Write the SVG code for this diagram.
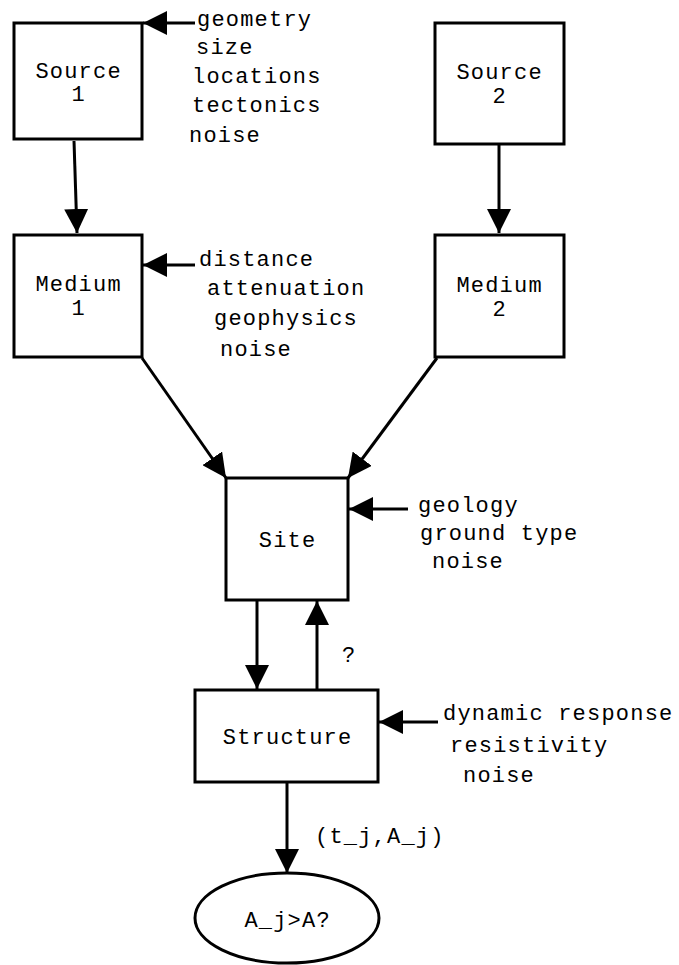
<svg xmlns="http://www.w3.org/2000/svg" width="679" height="965" viewBox="0 0 679 965">
<style>
.box{fill:#fff;stroke:#000;stroke-width:3}
.ln{fill:none;stroke:#000;stroke-width:3;marker-end:url(#ah)}
text{font-family:"Liberation Mono","Courier New",monospace;font-size:22px;letter-spacing:1.2px;fill:#000}
.c{text-anchor:middle}
</style>
<defs>
<marker id="ah" markerUnits="userSpaceOnUse" markerWidth="24" markerHeight="24" refX="22" refY="11" orient="auto" viewBox="0 0 22 22">
<path d="M0,0 L22,11 L0,22 z" fill="#000"/>
</marker>
</defs>
<g id="connectors">
<line class="ln" x1="74" y1="141" x2="77" y2="233"/>
<line class="ln" x1="499" y1="145" x2="499" y2="233"/>
<line class="ln" x1="142" y1="358" x2="226" y2="478"/>
<line class="ln" x1="437" y1="358" x2="348" y2="478"/>
<line class="ln" x1="257" y1="601" x2="257" y2="689"/>
<line class="ln" x1="317" y1="689" x2="317" y2="601"/>
<line class="ln" x1="287" y1="783" x2="287" y2="873"/>
<line class="ln" x1="195" y1="23" x2="143" y2="23"/>
<line class="ln" x1="195" y1="265" x2="143" y2="265"/>
<line class="ln" x1="408" y1="509" x2="349" y2="509"/>
<line class="ln" x1="438" y1="722" x2="379" y2="722"/>
</g>
<g id="source1">
<rect class="box" x="14" y="23" width="128" height="116"/>
<text class="c" x="78.6" y="78">Source</text>
<text class="c" x="78.6" y="101">1</text>
</g>
<g id="source1-notes">
<text x="197" y="26">geometry</text>
<text x="196" y="54">size</text>
<text x="192" y="83">locations</text>
<text x="192" y="112">tectonics</text>
<text x="189" y="142">noise</text>
</g>
<g id="source2">
<rect class="box" x="435" y="23" width="129" height="121"/>
<text class="c" x="499.6" y="79">Source</text>
<text class="c" x="499.6" y="103">2</text>
</g>
<g id="medium1">
<rect class="box" x="14" y="235" width="128" height="122"/>
<text class="c" x="78.6" y="291">Medium</text>
<text class="c" x="78.6" y="315">1</text>
</g>
<g id="medium1-notes">
<text x="199" y="266">distance</text>
<text x="207" y="295">attenuation</text>
<text x="214" y="325">geophysics</text>
<text x="220" y="356">noise</text>
</g>
<g id="medium2">
<rect class="box" x="435" y="235" width="129" height="122"/>
<text class="c" x="499.6" y="292">Medium</text>
<text class="c" x="499.6" y="316">2</text>
</g>
<g id="site">
<rect class="box" x="226" y="478" width="122" height="122"/>
<text class="c" x="287.6" y="547">Site</text>
</g>
<g id="site-notes">
<text x="418" y="512">geology</text>
<text x="420" y="540">ground type</text>
<text x="432" y="568">noise</text>
</g>
<text x="342" y="662">?</text>
<g id="structure">
<rect class="box" x="195" y="690" width="183" height="92"/>
<text class="c" x="287.6" y="744">Structure</text>
</g>
<g id="structure-notes">
<text x="443" y="720">dynamic response</text>
<text x="450" y="752">resistivity</text>
<text x="463" y="782">noise</text>
</g>
<text x="315" y="843">(t_j,A_j)</text>
<g id="decision">
<ellipse class="box" cx="287" cy="918" rx="92" ry="45"/>
<text class="c" x="287.6" y="927">A_j&gt;A?</text>
</g>
</svg>
